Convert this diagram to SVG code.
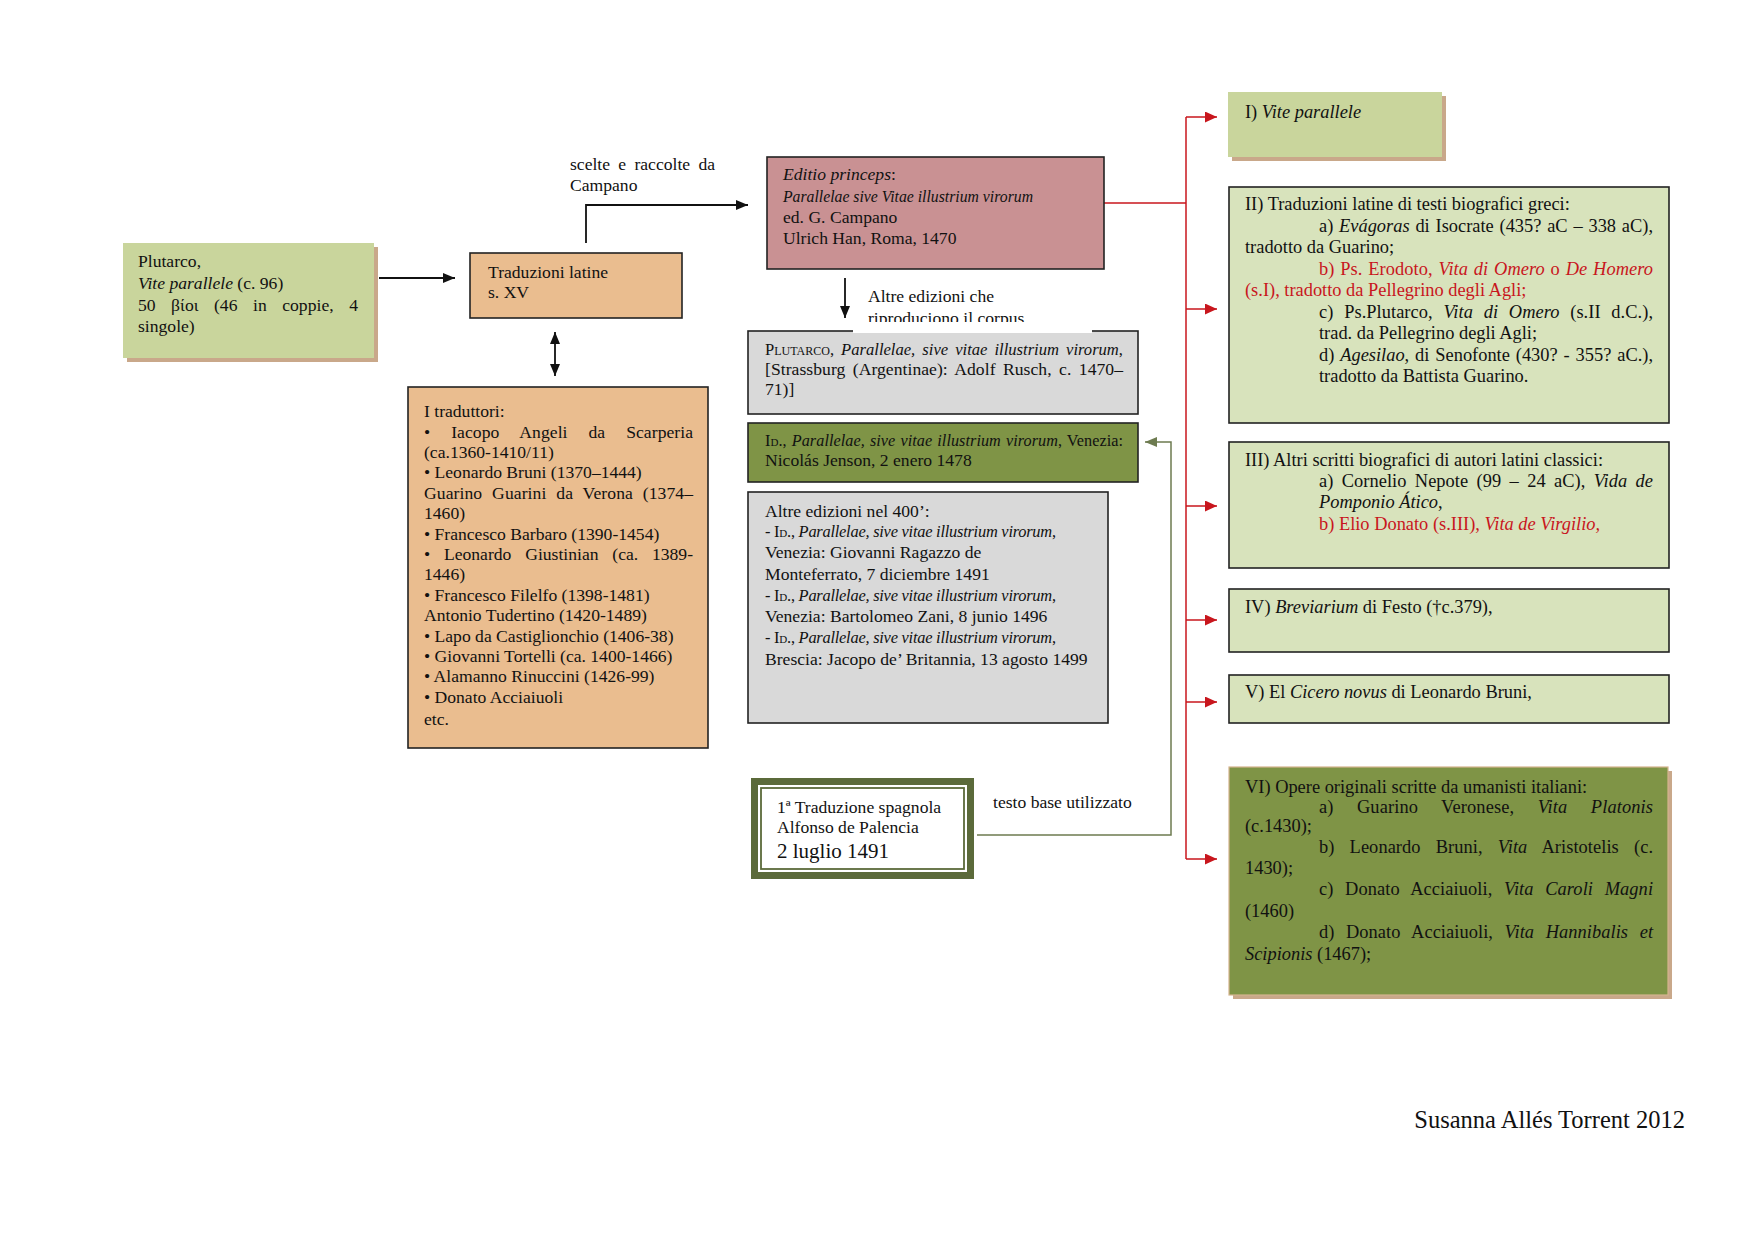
<svg xmlns="http://www.w3.org/2000/svg" width="1754" height="1240" viewBox="0 0 1754 1240">
<style>
.g{font-family:'Liberation Serif',serif;font-size:17.6px;fill:#111}
.t{font-family:'Liberation Serif',serif;font-size:18.4px;fill:#111}
.i{font-style:italic}
.r{fill:#c8161d}
.sc{font-variant:small-caps}
.box{stroke:#222;stroke-width:1.6}
.peach{fill:#eabd8f}
.gray{fill:#d9d9d9}
.olive{fill:#7f9446}
.light{fill:#d8e3bc}
.pale{fill:#c9d59c}
.shadow{fill:#c9a88a}
.blk{stroke:#111;stroke-width:1.8;fill:none}
.red{stroke:#c8161d;stroke-width:1.5;fill:none}
.grn{stroke:#6d7b50;stroke-width:1.5;fill:none}
</style>
<defs>
<marker id="ab" markerUnits="userSpaceOnUse" markerWidth="13" markerHeight="11" refX="12" refY="5" orient="auto-start-reverse"><path d="M0,0 L12,5 L0,10 z" fill="#111"/></marker>
<marker id="ar" markerUnits="userSpaceOnUse" markerWidth="13" markerHeight="12" refX="12" refY="5.5" orient="auto"><path d="M0,0 L12,5.5 L0,11 z" fill="#c8161d"/></marker>
<marker id="ag" markerUnits="userSpaceOnUse" markerWidth="13" markerHeight="11" refX="12" refY="5" orient="auto"><path d="M0,0 L12,5 L0,10 z" fill="#6d7b50"/></marker>
<clipPath id="clipAltre"><rect x="850" y="280" width="250" height="42"/></clipPath>
</defs>
<rect x="0" y="0" width="1754" height="1240" fill="#fff"/>

<g id="connectors">
<line class="blk" x1="379" y1="278" x2="455" y2="278" marker-end="url(#ab)"/>
<polyline class="blk" points="586,243 586,205 748,205" marker-end="url(#ab)"/>
<line class="blk" x1="555" y1="332" x2="555" y2="376" marker-start="url(#ab)" marker-end="url(#ab)"/>
<line class="blk" x1="845" y1="278" x2="845" y2="318" marker-end="url(#ab)"/>
<polyline class="grn" points="977,835 1171,835 1171,442 1145,442" marker-end="url(#ag)"/>
<line class="red" x1="1104" y1="203" x2="1186" y2="203"/>
<line class="red" x1="1186" y1="117" x2="1186" y2="859"/>
<line class="red" x1="1186" y1="117" x2="1217" y2="117" marker-end="url(#ar)"/>
<line class="red" x1="1186" y1="309" x2="1217" y2="309" marker-end="url(#ar)"/>
<line class="red" x1="1186" y1="506" x2="1217" y2="506" marker-end="url(#ar)"/>
<line class="red" x1="1186" y1="620" x2="1217" y2="620" marker-end="url(#ar)"/>
<line class="red" x1="1186" y1="702" x2="1217" y2="702" marker-end="url(#ar)"/>
<line class="red" x1="1186" y1="859" x2="1217" y2="859" marker-end="url(#ar)"/>
</g>

<g id="lbl-scelte">
<text class="g" x="570" y="170" style="word-spacing:3.9px" textLength="145" lengthAdjust="spacing">scelte e raccolte da</text>
<text class="g" x="570" y="191">Campano</text>
</g>

<g id="node-plutarco">
<rect class="shadow" x="127" y="247" width="251" height="115"/>
<rect class="pale" x="123" y="243" width="251" height="115"/>
<text class="g" x="138" y="267">Plutarco,</text>
<text class="g" x="138" y="289"><tspan class="i">Vite parallele</tspan> (c. 96)</text>
<text class="g" x="138" y="311" style="word-spacing:11px" textLength="220" lengthAdjust="spacing">50 βίοι (46 in coppie, 4</text>
<text class="g" x="138" y="332">singole)</text>
</g>

<g id="node-traduzioni">
<rect class="box peach" x="470" y="253" width="212" height="65"/>
<text class="g" x="488" y="278">Traduzioni latine</text>
<text class="g" x="488" y="298">s. XV</text>
</g>

<g id="node-traduttori">
<rect class="box peach" x="408" y="387" width="300" height="361"/>
<text class="g" x="424" y="417">I traduttori:</text>
<text class="g" x="424" y="437.5" style="word-spacing:16.5px" textLength="269" lengthAdjust="spacing">• Iacopo Angeli da Scarperia</text>
<text class="g" x="424" y="458">(ca.1360-1410/11)</text>
<text class="g" x="424" y="478">• Leonardo Bruni (1370–1444)</text>
<text class="g" x="424" y="499" style="word-spacing:5.4px" textLength="269" lengthAdjust="spacing">Guarino Guarini da Verona (1374–</text>
<text class="g" x="424" y="519">1460)</text>
<text class="g" x="424" y="539.5">• Francesco Barbaro (1390-1454)</text>
<text class="g" x="424" y="560" style="word-spacing:9.4px" textLength="269" lengthAdjust="spacing">• Leonardo Giustinian (ca. 1389-</text>
<text class="g" x="424" y="580">1446)</text>
<text class="g" x="424" y="601">• Francesco Filelfo (1398-1481)</text>
<text class="g" x="424" y="621">Antonio Tudertino (1420-1489)</text>
<text class="g" x="424" y="641.5">• Lapo da Castiglionchio (1406-38)</text>
<text class="g" x="424" y="662">• Giovanni Tortelli (ca. 1400-1466)</text>
<text class="g" x="424" y="682">• Alamanno Rinuccini (1426-99)</text>
<text class="g" x="424" y="703">• Donato Acciaiuoli</text>
<text class="g" x="424" y="725">etc.</text>
</g>

<g id="node-editio">
<rect class="box" fill="#c99193" x="767" y="157" width="337" height="112"/>
<text class="g" x="783" y="180"><tspan class="i">Editio princeps</tspan>:</text>
<text class="g i" x="783" y="202" textLength="250" lengthAdjust="spacingAndGlyphs">Parallelae sive Vitae illustrium virorum</text>
<text class="g" x="783" y="223">ed. G. Campano</text>
<text class="g" x="783" y="244">Ulrich Han, Roma, 1470</text>
</g>

<g id="node-plutarco-rusch">
<rect class="box gray" x="748" y="331" width="390" height="83"/>
<text class="g" x="765" y="355" style="font-size:16.6px;word-spacing:2.9px" textLength="358" lengthAdjust="spacing"><tspan class="sc">Plutarco</tspan>, <tspan class="i">Parallelae, sive vitae illustrium virorum</tspan>,</text>
<text class="g" x="765" y="375" style="word-spacing:3px" textLength="358" lengthAdjust="spacing">[Strassburg (Argentinae): Adolf Rusch, c. 1470–</text>
<text class="g" x="765" y="395">71)]</text>
</g>

<g id="lbl-altre-edizioni">
<rect x="853" y="286" width="239" height="47" fill="#fff"/>
<text class="g" x="868" y="302">Altre edizioni che</text>
<text class="g" x="868" y="324" clip-path="url(#clipAltre)">riproduciono il corpus</text>
</g>

<g id="node-jenson">
<rect class="box olive" x="748" y="423" width="390" height="59"/>
<text class="g" x="765" y="446" style="font-size:16.2px;word-spacing:1px" textLength="358" lengthAdjust="spacing"><tspan class="sc">Id.</tspan>, <tspan class="i">Parallelae, sive vitae illustrium virorum</tspan>, Venezia:</text>
<text class="g" x="765" y="466">Nicolás Jenson, 2 enero 1478</text>
</g>

<g id="node-altre400">
<rect class="box gray" x="748" y="492" width="360" height="231"/>
<text class="g" x="765" y="517">Altre edizioni nel 400’:</text>
<text class="g" x="765" y="537" style="font-size:16.4px" textLength="291" lengthAdjust="spacing">- <tspan class="sc">Id.</tspan>, <tspan class="i">Parallelae, sive vitae illustrium virorum</tspan>,</text>
<text class="g" x="765" y="558">Venezia: Giovanni Ragazzo de</text>
<text class="g" x="765" y="580">Monteferrato, 7 diciembre 1491</text>
<text class="g" x="765" y="601" style="font-size:16.4px" textLength="291" lengthAdjust="spacing">- <tspan class="sc">Id.</tspan>, <tspan class="i">Parallelae, sive vitae illustrium virorum</tspan>,</text>
<text class="g" x="765" y="622">Venezia: Bartolomeo Zani, 8 junio 1496</text>
<text class="g" x="765" y="643" style="font-size:16.4px" textLength="291" lengthAdjust="spacing">- <tspan class="sc">Id.</tspan>, <tspan class="i">Parallelae, sive vitae illustrium virorum</tspan>,</text>
<text class="g" x="765" y="665">Brescia: Jacopo de’ Britannia, 13 agosto 1499</text>
</g>

<g id="node-palencia">
<rect x="754.5" y="781.5" width="216" height="94" fill="#fff" stroke="#5b6a3a" stroke-width="7"/>
<rect x="761" y="788" width="203" height="81" fill="none" stroke="#5b6a3a" stroke-width="1.8"/>
<text class="g" x="777" y="813">1ª Traduzione spagnola</text>
<text class="g" x="777" y="833">Alfonso de Palencia</text>
<text class="g" x="777" y="858" style="font-size:21px">2 luglio 1491</text>
</g>

<g id="lbl-testo-base">
<text class="g" x="993" y="808">testo base utilizzato</text>
</g>

<g id="node-I">
<rect class="shadow" x="1232" y="96" width="214" height="65"/>
<rect class="pale" x="1228" y="92" width="214" height="65"/>
<text class="t" x="1245" y="118">I) <tspan class="i">Vite parallele</tspan></text>
</g>

<g id="node-II">
<rect class="box light" x="1229" y="187" width="440" height="236"/>
<text class="t" x="1245" y="210">II) Traduzioni latine di testi biografici greci:</text>
<text class="t" x="1319" y="232" style="word-spacing:1.2px" textLength="334" lengthAdjust="spacing">a) <tspan class="i">Evágoras</tspan> di Isocrate (435? aC – 338 aC),</text>
<text class="t" x="1245" y="253">tradotto da Guarino;</text>
<text class="t r" x="1319" y="275" style="word-spacing:1.1px" textLength="334" lengthAdjust="spacing">b) Ps. Erodoto, <tspan class="i">Vita di Omero</tspan> o <tspan class="i">De Homero</tspan></text>
<text class="t r" x="1245" y="296">(s.I), tradotto da Pellegrino degli Agli;</text>
<text class="t" x="1319" y="318" style="word-spacing:6.1px" textLength="334" lengthAdjust="spacing">c) Ps.Plutarco, <tspan class="i">Vita di Omero</tspan> (s.II d.C.),</text>
<text class="t" x="1319" y="339">trad. da Pellegrino degli Agli;</text>
<text class="t" x="1319" y="361" style="word-spacing:1.3px" textLength="334" lengthAdjust="spacing">d) <tspan class="i">Agesilao</tspan>, di Senofonte (430? - 355? aC.),</text>
<text class="t" x="1319" y="382">tradotto da Battista Guarino.</text>
</g>

<g id="node-III">
<rect class="box light" x="1229" y="442" width="440" height="126"/>
<text class="t" x="1245" y="466">III) Altri scritti biografici di autori latini classici:</text>
<text class="t" x="1319" y="487" style="word-spacing:3.7px" textLength="334" lengthAdjust="spacing">a) Cornelio Nepote (99 – 24 aC), <tspan class="i">Vida de</tspan></text>
<text class="t i" x="1319" y="508">Pomponio Ático<tspan style="font-style:normal">,</tspan></text>
<text class="t r" x="1319" y="530">b) Elio Donato (s.III), <tspan class="i">Vita de Virgilio,</tspan></text>
</g>

<g id="node-IV">
<rect class="box light" x="1229" y="589" width="440" height="63"/>
<text class="t" x="1245" y="613">IV) <tspan class="i">Breviarium</tspan> di Festo (†c.379),</text>
</g>

<g id="node-V">
<rect class="box light" x="1229" y="675" width="440" height="48"/>
<text class="t" x="1245" y="698">V) El <tspan class="i">Cicero novus</tspan> di Leonardo Bruni,</text>
</g>

<g id="node-VI">
<rect class="shadow" x="1233" y="771" width="439" height="228"/>
<rect class="olive" x="1229" y="767" width="439" height="228" stroke="#d4b48e" stroke-width="1.2"/>
<text class="t" x="1245" y="793">VI) Opere originali scritte da umanisti italiani:</text>
<text class="t" x="1319" y="813" style="word-spacing:18.7px" textLength="334" lengthAdjust="spacing">a) Guarino Veronese, <tspan class="i">Vita Platonis</tspan></text>
<text class="t" x="1245" y="832">(c.1430);</text>
<text class="t" x="1319" y="853" style="word-spacing:10.5px" textLength="334" lengthAdjust="spacing">b) Leonardo Bruni, <tspan class="i">Vita</tspan> Aristotelis (c.</text>
<text class="t" x="1245" y="874">1430);</text>
<text class="t" x="1319" y="895" style="word-spacing:6.9px" textLength="334" lengthAdjust="spacing">c) Donato Acciaiuoli, <tspan class="i">Vita Caroli Magni</tspan></text>
<text class="t" x="1245" y="917">(1460)</text>
<text class="t" x="1319" y="938" style="word-spacing:6.9px" textLength="334" lengthAdjust="spacing">d) Donato Acciaiuoli, <tspan class="i">Vita Hannibalis et</tspan></text>
<text class="t" x="1245" y="960"><tspan class="i">Scipionis</tspan> (1467);</text>
</g>

<g id="signature">
<text class="g" x="1685" y="1128" text-anchor="end" style="font-size:24.5px">Susanna Allés Torrent 2012</text>
</g>
</svg>
